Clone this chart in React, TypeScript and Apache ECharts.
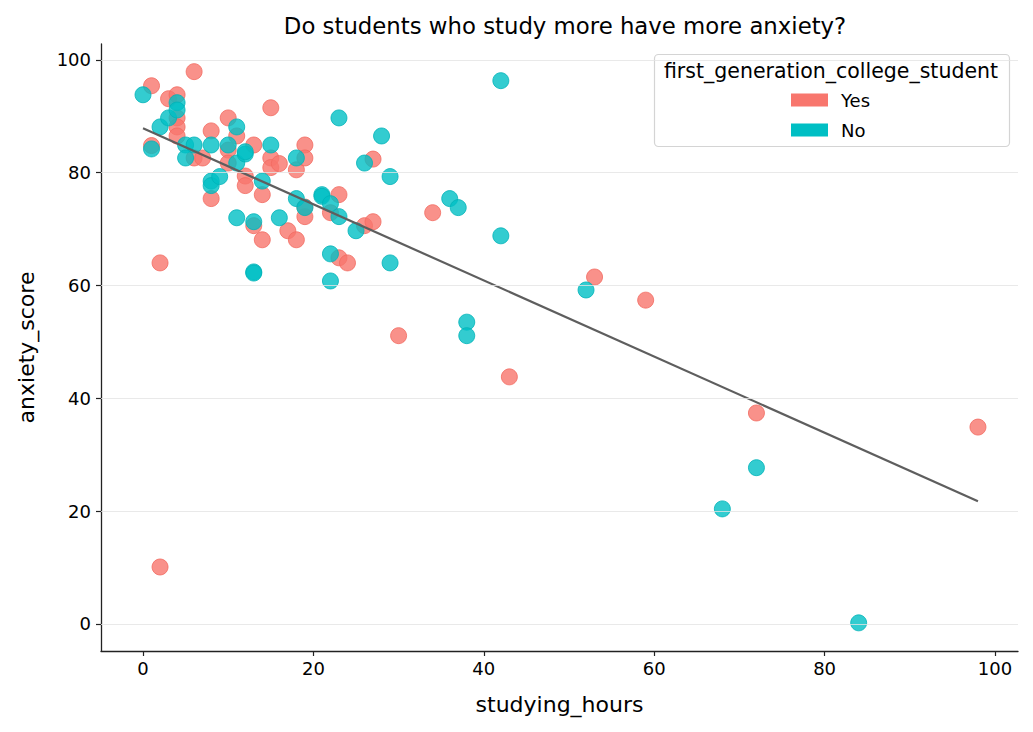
import React, { useEffect, useRef } from "react";
import * as echarts from "echarts";

// Students who are first-generation college students: [studying_hours, anxiety_score]
const yesPoints: [number, number][] = [
  [1, 95.4], [1, 84.8], [2, 64], [2, 10.1], [3, 93.1], [4, 93.8], [4, 89.7], [4, 88.1],
  [4, 86.5], [6, 97.9], [6, 82.6], [7, 82.6], [8, 87.4], [8, 75.4], [10, 89.7], [10, 84],
  [10, 81.7], [11, 86.5], [12, 79.4], [12, 77.7], [13, 84.9], [13, 70.6], [14, 76.1],
  [14, 68.1], [15, 91.5], [15, 82.6], [15, 80.9], [16, 81.6], [17, 69.7], [18, 80.5],
  [18, 68.1], [19, 84.9], [19, 82.6], [19, 72.2], [19, 73.9], [22, 72.9], [23, 76.1],
  [23, 64.9], [24, 64], [26, 70.6], [27, 71.3], [27, 82.4], [30, 51.1], [34, 72.9],
  [43, 43.8], [53, 61.5], [59, 57.4], [72, 37.4], [98, 34.9],
];

// Students who are not first-generation college students
const noPoints: [number, number][] = [
  [0, 93.8], [1, 84.2], [2, 88.1], [3, 89.7], [4, 92.4], [4, 91.1], [5, 84.9], [5, 82.6],
  [6, 84.9], [8, 84.9], [8, 78.5], [8, 77.7], [9, 79.3], [10, 84.9], [11, 88.1], [11, 81.7],
  [11, 72], [12, 83.3], [12, 83.7], [13, 71.3], [13, 62.4], [13, 62.2], [14, 78.5],
  [15, 84.9], [16, 72], [18, 82.6], [18, 75.4], [19, 73.8], [21, 76.1], [21, 75.8],
  [22, 74.5], [22, 65.6], [22, 60.8], [23, 89.7], [23, 72.2], [25, 69.7], [26, 81.7],
  [28, 86.5], [29, 79.3], [29, 64], [36, 75.4], [37, 73.8], [38, 53.5], [38, 51.1],
  [42, 96.3], [42, 68.8], [52, 59.2], [68, 20.4], [72, 27.7], [84, 0.2],
];

const groupNames = ["Yes", "No"];
const yTicks = [0, 20, 40, 60, 80, 100];
const xTicks = [0, 20, 40, 60, 80, 100];

const YES_COLOR = "#F8766D";
const NO_COLOR = "#00BFC4";
const FONT = "DejaVu Sans";

// Ordinary least squares fit over every student
function fitLine(points: [number, number][]): [number, number][] {
  const n = points.length;
  let sx = 0, sy = 0, sxx = 0, sxy = 0;
  for (const [x, y] of points) {
    sx += x; sy += y; sxx += x * x; sxy += x * y;
  }
  const slope = (n * sxy - sx * sy) / (n * sxx - sx * sx);
  const intercept = (sy - slope * sx) / n;
  const xs = points.map((p) => p[0]);
  const x0 = Math.min(...xs);
  const x1 = Math.max(...xs);
  return [
    [x0, intercept + slope * x0],
    [x1, intercept + slope * x1],
  ];
}

export default function App() {
  const ref = useRef<HTMLDivElement>(null);

  useEffect(() => {
    if (!ref.current) return;
    const chart = echarts.init(ref.current, undefined, { renderer: "svg" });
    const trend = fitLine([...yesPoints, ...noPoints]);

    const axisCommon = {
      type: "value",
      nameLocation: "middle",
      nameTextStyle: { fontFamily: FONT, fontSize: 22, color: "#000" },
      axisLine: { show: true, onZero: false, lineStyle: { color: "#222", width: 1.3 } },
      splitLine: { show: false },
    };

    chart.setOption({
      animation: false,
      backgroundColor: "#ffffff",
      textStyle: { fontFamily: FONT },
      title: {
        text: "Do students who study more have more anxiety?",
        left: 560,
        textAlign: "center",
        top: 9,
        textStyle: { fontFamily: FONT, fontSize: 22.8, fontWeight: "normal", color: "#000" },
      },
      grid: { left: 101, right: 15, top: 44, bottom: 81 },
      xAxis: {
        ...axisCommon,
        min: -4.93,
        max: 102.7,
        name: "studying_hours",
        nameGap: 42,
        axisTick: {
          show: true,
          length: 5,
          lineStyle: { color: "#222", width: 1.2 },
          customValues: xTicks,
        },
        axisLabel: {
          fontFamily: FONT,
          fontSize: 18,
          color: "#000",
          margin: 8,
          customValues: xTicks,
        },
      },
      yAxis: {
        ...axisCommon,
        min: -4.79,
        max: 102.8,
        name: "anxiety_score",
        nameGap: 64,
        nameRotate: 90,
        axisTick: {
          show: true,
          length: 5,
          lineStyle: { color: "#222", width: 1.2 },
          customValues: yTicks,
        },
        axisLabel: {
          fontFamily: FONT,
          fontSize: 18,
          color: "#000",
          margin: 10,
          customValues: yTicks,
        },
      },
      legend: {
        data: groupNames,
        orient: "vertical",
        left: 791,
        top: 91,
        itemWidth: 37,
        itemHeight: 13,
        itemGap: 12,
        icon: "rect",
        padding: 0,
        itemStyle: { borderWidth: 0, opacity: 1 },
        textStyle: { fontFamily: FONT, fontSize: 18, color: "#000", padding: [0, 0, 0, 8] },
        selectedMode: false,
      },
      graphic: [
        {
          type: "rect",
          shape: { x: 654.5, y: 54.5, width: 355, height: 92, r: 4 },
          style: { fill: "rgba(255,255,255,0.8)", stroke: "#d4d4d4", lineWidth: 1.2 },
          z: 0,
        },
        {
          type: "text",
          x: 831,
          y: 71,
          style: {
            text: "first_generation_college_student",
            fontFamily: FONT,
            fontSize: 20.5,
            fill: "#000",
            align: "center",
            verticalAlign: "middle",
          },
          z: 1,
        },
      ],
      series: [
        // horizontal grid lines at the y ticks
        {
          type: "line",
          silent: true,
          data: [],
          markLine: {
            silent: true,
            symbol: "none",
            label: { show: false },
            lineStyle: { color: "#e3e3e3", width: 0.8, type: "solid" },
            data: yTicks.map((v) => ({ yAxis: v })),
          },
          z: 0,
        },
        {
          name: "Yes",
          type: "scatter",
          data: yesPoints,
          symbolSize: 16,
          itemStyle: { color: YES_COLOR, opacity: 0.8, borderColor: "#f26a60", borderWidth: 1 },
          z: 2,
        },
        {
          name: "No",
          type: "scatter",
          data: noPoints,
          symbolSize: 16,
          itemStyle: { color: NO_COLOR, opacity: 0.8, borderColor: "#00b3b8", borderWidth: 1 },
          z: 2,
        },
        {
          name: "trend",
          type: "line",
          data: trend,
          symbol: "none",
          lineStyle: { color: "#5e5e5e", width: 2.2 },
          z: 3,
        },
      ],
    });

    return () => chart.dispose();
  }, []);

  return <div ref={ref} style={{ width: 1033, height: 732, margin: -8 }} />;
}
